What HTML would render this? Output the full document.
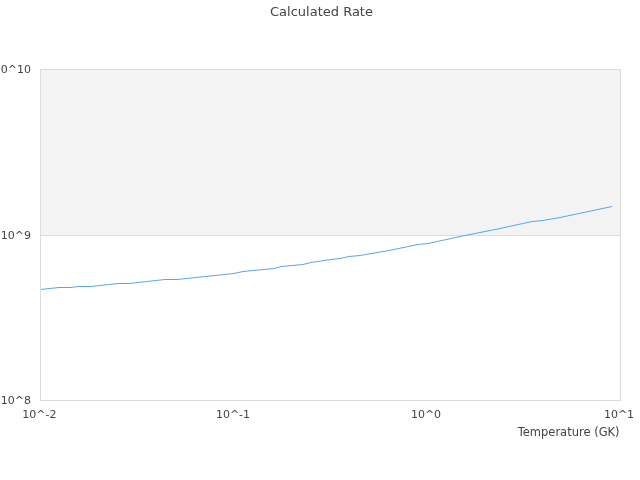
<!DOCTYPE html>
<html><head><meta charset="utf-8"><title>Calculated Rate</title>
<style>
html,body{margin:0;padding:0;background:#fff;overflow:hidden}
svg{display:block}
text{font-family:"DejaVu Sans","Liberation Sans",sans-serif;fill:#444}
</style></head><body>
<svg width="640" height="480" viewBox="0 0 640 480" xmlns="http://www.w3.org/2000/svg">
<rect x="0" y="0" width="640" height="480" fill="#fff"/>
<rect x="40.5" y="69.5" width="580" height="166" fill="#f3f3f3"/>
<line x1="40.5" y1="235.5" x2="620.5" y2="235.5" stroke="#dcdcdc" stroke-width="1"/>
<polyline fill="none" stroke="#59a5f0" stroke-width="1" stroke-linejoin="round" points="40.5,289.5 59,287.5 71,287.5 78,286.5 91,286.5 118,283.5 129,283.5 165,279.5 177,279.5 196,277.5 234,273.5 243,271.5 274,268.5 281,266.5 303,264.5 311,262.5 331,259.5 340,258.5 349,256.5 360,255.5 389,250.5 418,244.5 428,243.5 465,235.5 500,228.5 532,221.5 543,220.5 560,217.5 612,206.5"/>
<rect x="40.5" y="69.5" width="580" height="331" fill="none" stroke="#dcdcdc" stroke-width="1"/>
<text x="321.5" y="16" font-size="13" text-anchor="middle">Calculated Rate</text>
<text x="31" y="73" font-size="11" text-anchor="end">10^10</text>
<text x="31" y="239" font-size="11" text-anchor="end">10^9</text>
<text x="31" y="404" font-size="11" text-anchor="end">10^8</text>
<text x="39.4" y="418" font-size="11" text-anchor="middle">10^-2</text>
<text x="233" y="418" font-size="11" text-anchor="middle">10^-1</text>
<text x="426" y="418" font-size="11" text-anchor="middle">10^0</text>
<text x="619" y="418" font-size="11" text-anchor="middle">10^1</text>
<text x="619.6" y="435.5" font-size="11.5" text-anchor="end">Temperature (GK)</text>
</svg>
</body></html>
